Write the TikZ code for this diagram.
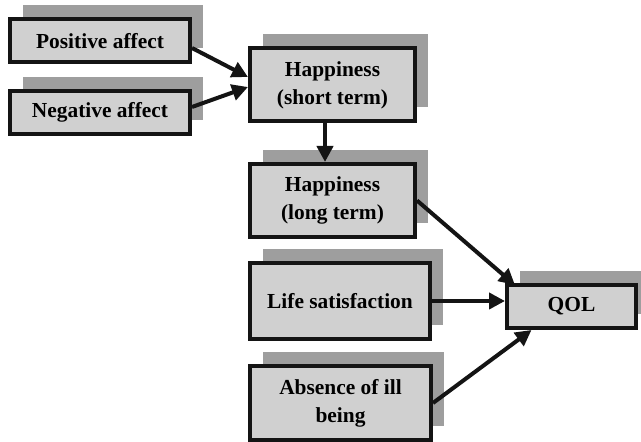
\documentclass[tikz,border=0pt]{standalone}
\usepackage{fontspec}
\setmainfont{Liberation Serif}
\usetikzlibrary{arrows.meta,shadows}
\definecolor{boxgray}{RGB}{208,208,208}
\definecolor{shadowgray}{RGB}{158,158,158}
\definecolor{edgeblack}{RGB}{20,20,20}
\tikzset{
	factor/.style={draw=edgeblack, line width=2pt, fill=boxgray, align=center, inner sep=0pt,
		font=\fontsize{10.7}{14}\selectfont\bfseries,
		general shadow={fill=shadowgray, shadow xshift=6.5pt, shadow yshift=7pt}},
	link/.style={draw=edgeblack, line width=2pt, -{Triangle[length=8pt,width=8pt]}}
}
\begin{document}
\begin{tikzpicture}[x=0.5pt, y=-0.5pt]
	\useasboundingbox (0,0) rectangle (641,442);
	
	\node[factor, minimum width=90pt, minimum height=21.5pt] (pos) at (100,41) {Positive affect};
	\node[factor, minimum width=90pt, minimum height=21.5pt] (neg) at (100,112.5) {Negative affect};
	
	\node[factor, minimum width=82.5pt, minimum height=36.5pt] (short) at (332.5,85) {Happiness\\(short term)};
	\node[factor, minimum width=82.5pt, minimum height=36.5pt] (long) at (332.5,200.5) {Happiness\\(long term)};
	
	\node[factor, minimum width=90pt, minimum height=38pt] (life) at (340,301) {Life satisfaction};
	\node[factor, minimum width=90.5pt, minimum height=36.5pt] (ill) at (340.5,403) {Absence of ill\\being};
	
	\node[factor, minimum width=64.5pt, minimum height=21.5pt] (qol) at (571.5,306.5) {QOL};
	
	\draw[link] ([yshift=-3.5pt]pos.east) -- ([yshift=4pt]short.west);
	\draw[link] ([yshift=2.75pt]neg.east) -- ([yshift=-1pt]short.west);
	\draw[link] ([xshift=-3.75pt]short.south) -- ([xshift=-3.75pt]long.north);
	
	\draw[link] (long.east) -- ([xshift=5pt,yshift=-1pt]qol.north west);
	\draw[link] (life.east) -- (life.east -| qol.west);
	\draw[link] (ill.east) -- ([xshift=-20pt]qol.south);
	
\end{tikzpicture}
\end{document}
